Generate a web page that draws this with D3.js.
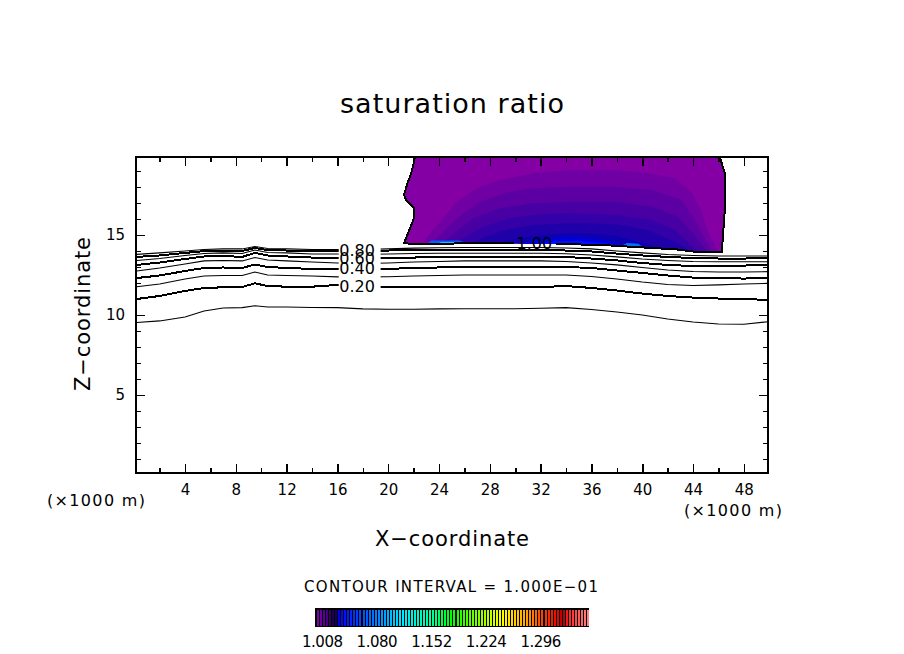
<!DOCTYPE html>
<html><head><meta charset="utf-8">
<script src="https://cdn.jsdelivr.net/npm/d3@7/dist/d3.min.js"></script>
<style>html,body{margin:0;padding:0;background:#fff}svg{display:block}
text{font-family:"DejaVu Sans",sans-serif;fill:#000}</style></head>
<body><svg id="c" width="904" height="654"></svg>
<script>
const xGrid=[0.2,2,4,5.5,7,8.5,9.5,10.5,12,14,16,18,20,22,24,26,28,30,32,34,36,38,40,42,44,46,48,49.9];
const level01=[9.53,9.63,9.88,10.25,10.44,10.46,10.58,10.5,10.5,10.47,10.46,10.38,10.36,10.36,10.38,10.39,10.39,10.39,10.42,10.46,10.34,10.19,10.0,9.75,9.56,9.44,9.42,9.58];
const level02=[11.0,11.19,11.5,11.69,11.73,11.75,11.98,11.81,11.77,11.77,11.88,11.72,11.72,11.72,11.73,11.75,11.75,11.75,11.75,11.81,11.69,11.53,11.34,11.19,11.09,11.03,11.0,10.94];
const level03=[11.77,11.94,12.25,12.44,12.47,12.47,12.69,12.5,12.47,12.44,12.38,12.38,12.39,12.44,12.47,12.5,12.5,12.5,12.5,12.5,12.41,12.25,12.06,11.91,11.84,11.88,11.94,11.98];
const level04=[12.31,12.47,12.75,12.94,12.97,12.94,13.16,13.0,12.94,12.88,12.88,12.84,12.88,12.94,12.97,13.0,13.02,13.02,13.02,13.0,12.94,12.78,12.63,12.47,12.34,12.29,12.28,12.29];
const level05=[12.75,12.94,13.19,13.38,13.41,13.38,13.59,13.44,13.38,13.31,13.25,13.22,13.25,13.31,13.34,13.38,13.38,13.38,13.38,13.34,13.25,13.13,12.97,12.81,12.72,12.69,12.69,12.71];
const level06=[13.13,13.28,13.5,13.66,13.69,13.63,13.88,13.72,13.66,13.59,13.56,13.53,13.56,13.59,13.63,13.64,13.64,13.64,13.64,13.63,13.53,13.41,13.25,13.13,13.06,13.06,13.09,13.13];
const level07=[13.41,13.53,13.72,13.84,13.88,13.84,14.06,13.91,13.88,13.81,13.81,13.78,13.81,13.84,13.86,13.86,13.86,13.86,13.86,13.83,13.75,13.63,13.5,13.41,13.34,13.33,13.33,13.33];
const level08=[13.63,13.72,13.88,13.99,14.01,14.0,14.19,14.06,14.03,14.0,14.0,14.0,14.03,14.06,14.06,14.06,14.06,14.06,14.06,14.03,13.97,13.84,13.72,13.63,13.56,13.53,13.53,13.54];
const level09=[13.79,13.88,14.0,14.09,14.13,14.13,14.28,14.16,14.13,14.09,14.09,14.09,14.13,14.18,14.2,14.22,14.22,14.22,14.22,14.19,14.13,14.0,13.88,13.78,13.72,13.69,13.69,13.69];
const contourLevels=[level01,level02,level03,level04,level05,level06,level07,level08,level09];
const contourThick=[false,true,false,true,false,true,false,true,false];

const satBoundary=[[22.11,19.875],[21.85,18.96],[21.5,18.2],[21.24,17.5],[21.4,17.2],[22.03,16.67],[22.03,16.06],[21.6,15.2],[21.24,14.48],[22.76,14.42],[25.79,14.48],[29.6,14.48],[33.27,14.44],[36.9,14.375],[39.04,14.27],[42.7,14.1],[44.3,13.94],[46.26,13.94],[46.5,16.56],[46.5,18.88],[46.1,19.875]];
const band1=[[22.74,14.56],[24.08,15.83],[25.39,17.08],[26.97,17.92],[28.8,18.44],[31.4,18.86],[34.3,19.06],[37.86,19.06],[40.46,18.86],[42.58,18.54],[43.9,17.71],[44.69,16.46],[45.18,15.21],[45.97,13.96]];
const band2=[[23.53,14.56],[25.39,16.04],[27.23,17.08],[29.33,17.67],[31.4,17.92],[34.3,18.02],[37.86,18.02],[40.75,17.81],[43.11,17.19],[44.39,15.63],[45.47,13.96]];
const band3=[[24.31,14.56],[26.68,16.04],[28.8,16.67],[31.4,16.98],[34.3,17.08],[37.86,17.08],[40.75,16.77],[42.82,16.14],[44.0,15.11],[45.08,13.96]];
const band4=[[25.39,14.56],[27.46,15.52],[29.59,16.04],[31.95,16.29],[34.3,16.36],[37.86,16.25],[40.75,15.94],[42.58,15.31],[44.39,13.96]];
const band5=[[26.68,14.56],[28.8,15.25],[31.4,15.63],[34.3,15.73],[37.86,15.69],[40.46,15.31],[42.82,14.48],[43.9,13.96]];
const band6=[[28.8,14.56],[30.93,14.89],[34.3,15.14],[37.6,15.0],[40.22,14.48],[42.32,13.96]];
const band7=[[29.9,14.4],[32.0,14.72],[34.3,14.89],[37.08,14.68],[39.17,14.35],[41.24,13.96]];
const band8=[[31.2,14.4],[33.0,14.6],[34.9,14.66],[37.0,14.48],[38.6,14.3],[40.8,14.0]];
const glowA=[[22.9,14.38],[23.4,14.66],[25.6,14.66],[26.6,14.38]];
const glowB=[[38.0,14.2],[38.8,14.5],[39.7,14.45],[40.3,14.1]];
const glowC=[[23.8,14.45],[24.2,14.56],[25.2,14.56],[25.6,14.45]];
const bands=[satBoundary,band1,band2,band3,band4,band5,band6,band7,band8,glowA,glowB,glowC];
const bandColors=["#8400a4","#7000a4","#5c00a4","#4800a4","#3400a8","#2000a8","#0c00b0","#0000d8","#0010ff","#0060ff","#0070ff","#20c0ff"];

const contourLabels=[["0.20",11.81],["0.40",12.94],["0.60",13.56],["0.80",14.06]];
const topLabel=["1.00",14.5];
const xMajor=[4,8,12,16,20,24,28,32,36,40,44,48];
const xMinor=[2,6,10,14,18,22,26,30,34,38,42,46];
const zMajor=[5,10,15];
const zMinor=[1,2,3,4,6,7,8,9,11,12,13,14,16,17,18,19];
const legendTicks=["1.008","1.080","1.152","1.224","1.296"];
const legendStops=[1.008,1.022,1.030,1.037,1.0885,1.119,1.158,1.185,1.251,1.284,1.304,1.326,1.331,1.337,1.367];
const legendColors=["#8000b0","#400080","#180030","#0000ff","#0088ff","#00e8ff","#00ffa0","#00ff00","#ffff00","#ffa000","#ff4000","#e00000","#a00000","#ff2020","#ff9090"];

const svg=d3.select("#c");
const W={l:136,r:768,t:157,b:473};
const x=d3.scaleLinear().domain([0.14,49.9]).range([W.l,W.r]);
const y=d3.scaleLinear().domain([0.125,19.875]).range([W.b,W.t]);
const defs=svg.append("defs");
defs.append("clipPath").attr("id","sat").append("path")
  .attr("d",d3.line().x(d=>x(d[0])).y(d=>y(d[1]))(satBoundary)+"Z");
defs.append("clipPath").attr("id","gapLow").append("path").attr("clip-rule","evenodd")
  .attr("d",`M0,0H904V654H0Z M${x(16.1)},240H${x(19.4)}V296H${x(16.1)}Z`);
defs.append("clipPath").attr("id","gapTop").append("path").attr("clip-rule","evenodd")
  .attr("d",`M0,0H904V654H0Z M${x(29.9)},236H${x(33.2)}V250H${x(29.9)}Z`);

const poly=d3.line().x(d=>x(d[0])).y(d=>y(d[1]));
const fills=svg.append("g").attr("clip-path","url(#sat)");
fills.selectAll("path").data(bands).join("path")
  .attr("d",d=>poly(d)+"Z").attr("fill",(d,i)=>bandColors[i]);

const cl=d3.line().x((d,i)=>x(xGrid[i])).y(d=>y(d));
svg.append("g").attr("clip-path","url(#gapLow)").selectAll("path").data(contourLevels).join("path")
  .attr("d",cl).attr("fill","none").attr("stroke","#000")
  .attr("stroke-width",(d,i)=>contourThick[i]?2:1.1)
  .attr("shape-rendering",(d,i)=>contourThick[i]?"crispEdges":"auto");
svg.append("path").attr("clip-path","url(#gapTop)").attr("d",poly(satBoundary))
  .attr("fill","none").attr("stroke","#000").attr("stroke-width",2).attr("shape-rendering","crispEdges");

svg.append("g").selectAll("text").data(contourLabels).join("text")
  .attr("x",x(17.55)).attr("y",d=>y(d[1])+6).attr("text-anchor","middle").attr("font-size",16).text(d=>d[0]);
svg.append("text").attr("x",x(31.5)).attr("y",y(topLabel[1])+6).attr("text-anchor","middle").attr("font-size",16).text(topLabel[0]);

function ax(gen,tx,ty,vals,len,fmt){
  const g=svg.append("g").attr("transform",`translate(${tx},${ty})`)
    .call(gen.tickValues(vals).tickSizeInner(-len).tickSizeOuter(0).tickPadding(11).tickFormat(fmt));
  g.select(".domain").remove();
  g.selectAll("line").attr("stroke","#000").attr("stroke-width",1.5).attr("shape-rendering","crispEdges");
  g.selectAll("text").attr("font-size",15).attr("font-family","DejaVu Sans");
  return g;
}
const none=()=>"";
ax(d3.axisBottom(x),0,W.b,xMajor,9,d=>d);
ax(d3.axisBottom(x),0,W.b,xMinor,5,none);
ax(d3.axisTop(x),0,W.t,xMajor,9,none);
ax(d3.axisTop(x),0,W.t,xMinor,5,none);
ax(d3.axisLeft(y),W.l,0,zMajor,9,d=>d);
ax(d3.axisLeft(y),W.l,0,zMinor,5,none);
ax(d3.axisRight(y),W.r,0,zMajor,9,none);
ax(d3.axisRight(y),W.r,0,zMinor,5,none);
svg.append("rect").attr("x",W.l).attr("y",W.t).attr("width",W.r-W.l).attr("height",W.b-W.t)
  .attr("fill","none").attr("stroke","#000").attr("stroke-width",2).attr("shape-rendering","crispEdges");

function label(t,cx,by,size,len,rot){
  const e=svg.append("text").attr("text-anchor","middle").attr("font-size",size)
    .attr("textLength",len).attr("lengthAdjust","spacing").text(t);
  if(rot) e.attr("transform",`translate(${cx},${by}) rotate(-90)`);
  else e.attr("x",cx).attr("y",by);
}
label("saturation ratio",452,113,27,224);
label("X\u2212coordinate",452,546,21,154);
label("Z\u2212coordinate",90,314,21,154,true);
label("(\u00d71000 m)",96,506,16,98);
label("(\u00d71000 m)",733,516,16,98);
label("CONTOUR INTERVAL = 1.000E\u221201",451,592,15,294);

const legendX=d3.scaleLinear().domain([1.008,1.368]).range([316,589]);
const legendColor=d3.scaleLinear().domain(legendStops).range(legendColors);
svg.append("rect").attr("x",315).attr("y",608).attr("width",274).attr("height",19).attr("fill","#000");
svg.append("g").selectAll("rect").data(d3.range(90).map(i=>1.008+i*0.004)).join("rect")
  .attr("x",d=>Math.round(legendX(d))+1).attr("y",610).attr("width",2).attr("height",16).attr("fill",d=>legendColor(d)).attr("shape-rendering","crispEdges");
svg.append("g").selectAll("text").data(legendTicks).join("text")
  .attr("x",d=>legendX(+d)+6.5).attr("y",647).attr("text-anchor","middle").attr("font-size",15).attr("textLength",41).attr("lengthAdjust","spacing").text(d=>d);
</script></body></html>
